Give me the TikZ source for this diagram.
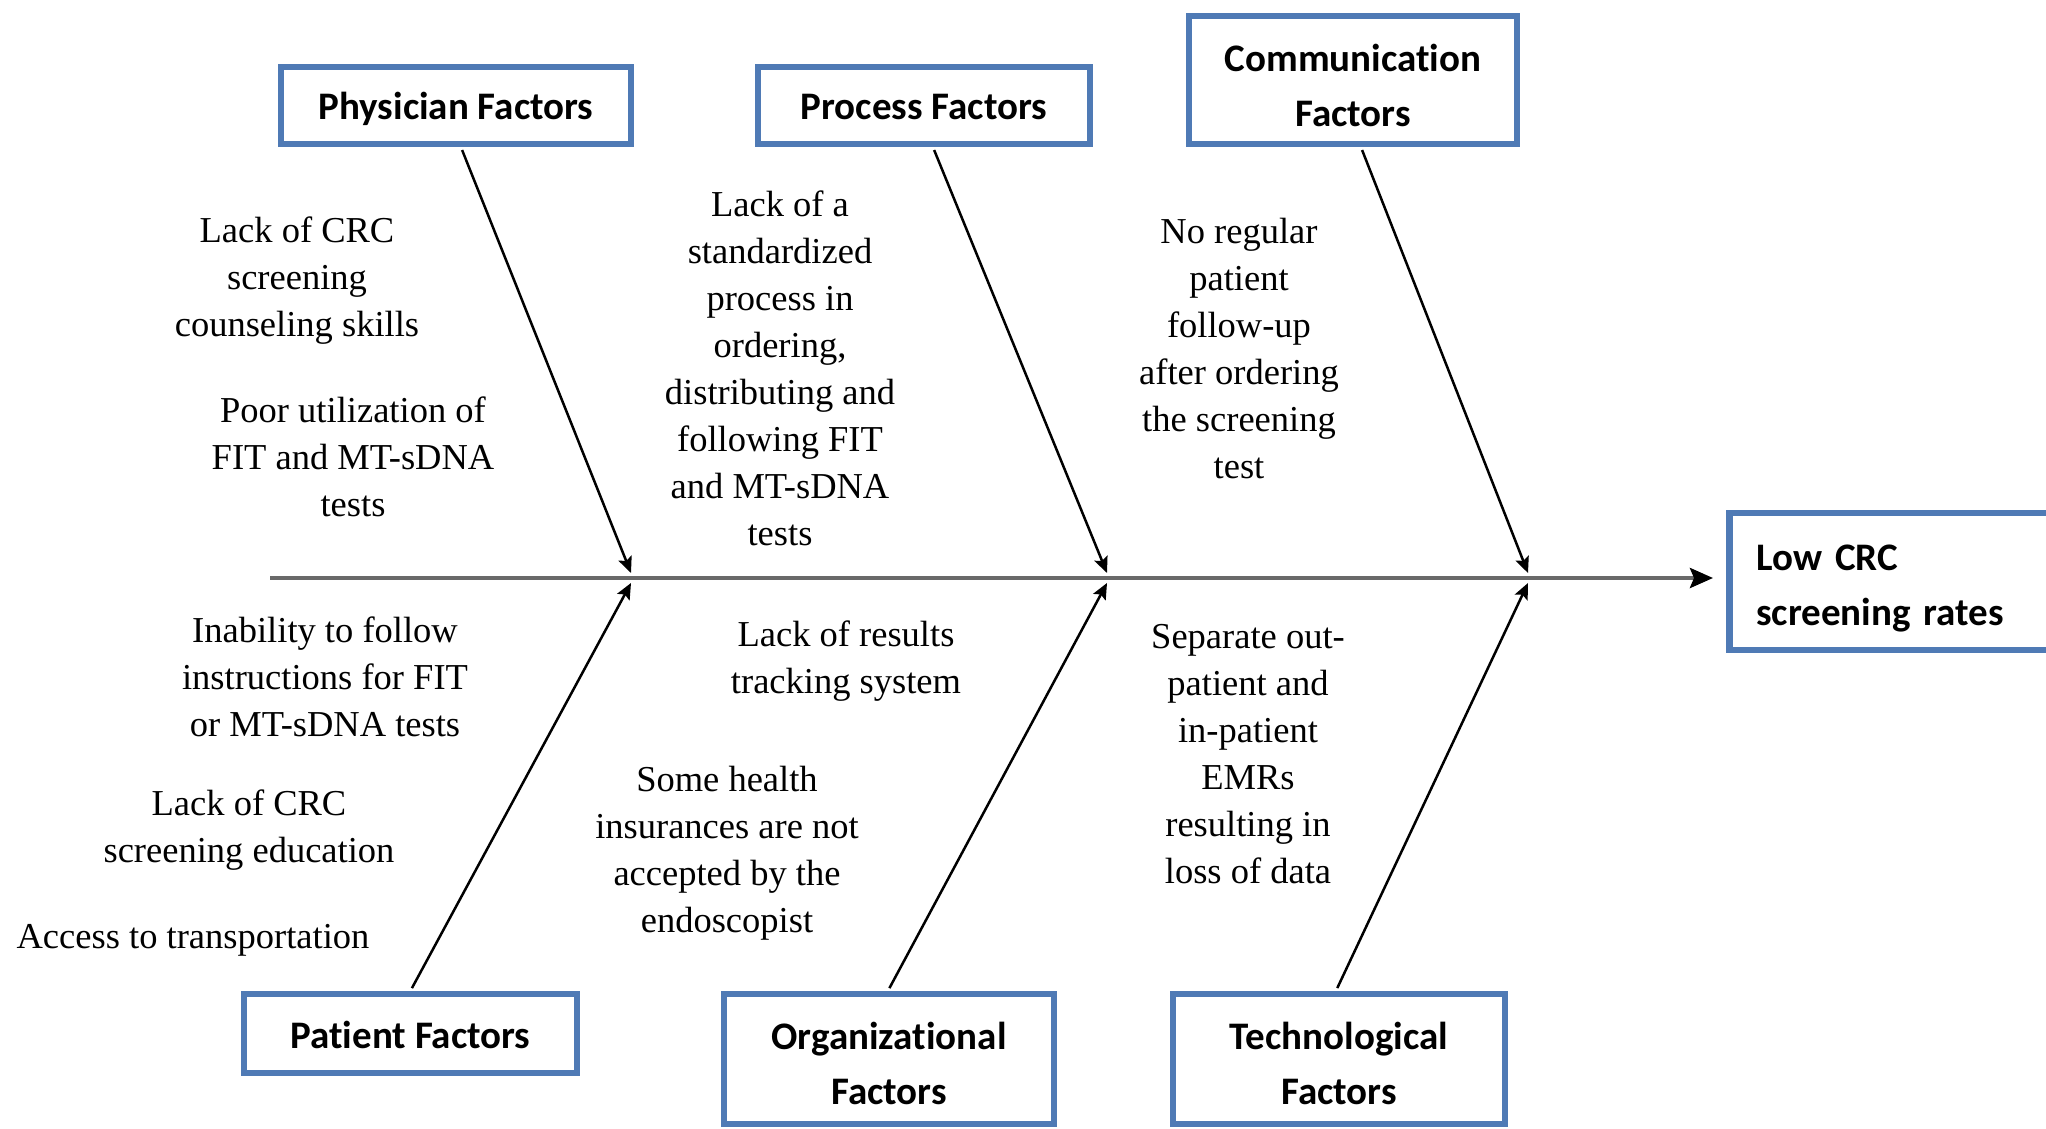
\documentclass[tikz,border=0pt]{standalone}
\usepackage{fontspec}
\setmainfont{Liberation Serif}
\newfontfamily\boxfont[Ligatures=NoCommon]{Carlito}
\usetikzlibrary{arrows.meta}
\definecolor{boxblue}{RGB}{79,122,181}
\definecolor{spinegray}{RGB}{105,105,105}
\begin{document}
\begin{tikzpicture}[x=1pt,y=-1pt,
  factor/.style={draw=boxblue, line width=6.5pt, fill=white, inner sep=0pt,
    align=center, font=\boxfont\bfseries\fontsize{39}{55}\selectfont},
  oneline/.style={text height=37pt, text depth=8pt},
  twoline/.style={text height=#1, text depth=0pt},
  twoline/.default=90pt,
  cause/.style={inner sep=0pt, align=center, font=\fontsize{36.5}{47}\selectfont},
  rib/.style={line width=2.5pt, shorten <=3pt,
    -{Stealth[length=16pt,width=14pt,inset=3pt]}},
  spine/.style={line width=4pt, draw=spinegray,
    -{Stealth[length=23pt,width=20pt,inset=4pt,color=black]}}
]
\useasboundingbox (0,0) rectangle (2046,1129);
\clip (0,0) rectangle (2046,1129);
\fill[white] (0,0) rectangle (2046,1129);

% category boxes
\node[factor, oneline, minimum width=350pt, minimum height=77pt] (phys) at (456,105.5) {Physician Factors};
\node[factor, oneline, minimum width=332pt, minimum height=77pt] (proc) at (924,105.5) {Process Factors};
\node[factor, twoline=94pt, minimum width=328pt, minimum height=128pt] (comm) at (1353,80) {Communication\\Factors};
\node[factor, oneline, minimum width=333pt, minimum height=79pt] (pat) at (410.5,1033.5) {Patient Factors};
\node[factor, twoline, minimum width=330pt, minimum height=130pt] (org) at (889,1059) {Organizational\\Factors};
\node[factor, twoline, minimum width=332pt, minimum height=130pt] (tech) at (1339,1059) {Technological\\Factors};

% effect box (left-aligned text block)
\node[factor, text height=40pt, text depth=62.2pt, anchor=west, text width=320pt,
      inner xsep=27pt, align=left, minimum height=137pt] (low) at (1726,581.5)
      {Low CRC\\screening rates};

% causes
\node[cause] (c1) at (297,281) {Lack of CRC\\screening\\counseling skills};
\node[cause] (c2) at (353,457) {Poor utilization of\\FIT and MT-sDNA\\tests};
\node[cause] (c3) at (780,368) {Lack of a\\standardized\\process in\\ordering,\\distributing and\\following FIT\\and MT-sDNA\\tests};
\node[cause] (c4) at (1239,349) {No regular\\patient\\follow-up\\after ordering\\the screening\\test};
\node[cause] (c5) at (325,677) {Inability to follow\\instructions for FIT\\or MT-sDNA tests};
\node[cause] (c6) at (249,830) {Lack of CRC\\screening education};
\node[cause] (c7) at (193,940) {Access to transportation};
\node[cause] (c8) at (846,661) {Lack of results\\tracking system};
\node[cause] (c9) at (727,853) {Some health\\insurances are not\\accepted by the\\endoscopist};
\node[cause] (c10) at (1248,754) {Separate out-\\patient and\\in-patient\\EMRs\\resulting in\\loss of data};

% junctions on the spine
\coordinate (spineL) at (270,578);
\coordinate (j1t) at (631,573);
\coordinate (j1b) at (631,583);
\coordinate (j2t) at (1107,573);
\coordinate (j2b) at (1107,583);
\coordinate (j3t) at (1528,573);
\coordinate (j3b) at (1528,583);

% spine
\draw[spine, shorten >=13pt] (spineL) -- (spineL -| low.west);

% ribs
\draw[rib] ([xshift=5pt]phys.south) -- (j1t);
\draw[rib] ([xshift=9pt]proc.south) -- (j2t);
\draw[rib] ([xshift=8pt]comm.south) -- (j3t);
\draw[rib] (pat.north) -- (j1b);
\draw[rib] ([xshift=-1pt]org.north) -- (j2b);
\draw[rib] ([xshift=-3pt]tech.north) -- (j3b);
\end{tikzpicture}
\end{document}
